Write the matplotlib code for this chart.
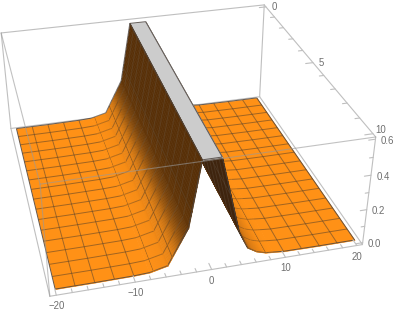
import numpy as np
import matplotlib
matplotlib.use("Agg")
import matplotlib.pyplot as plt
from mpl_toolkits.mplot3d import Axes3D
from mpl_toolkits.mplot3d.art3d import Poly3DCollection, Line3DCollection

plt.rcParams['font.family'] = ['Liberation Sans', 'DejaVu Sans']

# ---- data ----
x_knots = [-20, -15, -10, -8, -5.6, -2.9, -1.25, 1.25, 3.8, 5, 6.25, 7.5, 10, 15, 20]
z_profile = [0, 0, 0.002, 0.006, 0.03, 0.235, 0.6, 0.6, 0.16, 0.06, 0.028, 0.012, 0.002, 0, 0]
shade_x = [-20, -8, -6, -5, -4.5, -4, -3.5, -3, -2.4, -1.25, 1.25, 3.6, 4.5, 5.5, 7, 8, 20]
shade_t = [0, 0, 0.05, 0.17, 0.35, 0.6, 0.8, 0.92, 1, 1, 1, 1, 0.55, 0.2, 0.04, 0, 0]
x_mesh = [-17.5, -15, -12.5, -10, -7.5, -5, -2.5, 2.5, 5, 7.5, 10, 12.5, 15, 17.5]
y_knots = [0, 0.625, 1.25, 1.875, 2.5, 3.125, 3.75, 4.375, 5, 5.625, 6.25, 6.875, 7.5, 8.125, 8.75, 9.375, 10]
x_ticks_major = [-20, -10, 0, 10, 20]
x_tick_labels = ['\u221220', '\u221210', '0', '10', '20']
x_ticks_minor = [-18, -16, -14, -12, -8, -6, -4, -2, 2, 4, 6, 8, 12, 14, 16, 18]
y_ticks_major = [0, 5, 10]
y_tick_labels = ['0', '5', '10']
y_ticks_minor = [1, 2, 3, 4, 6, 7, 8, 9]
z_ticks_major = [0.0, 0.2, 0.4, 0.6]
z_tick_labels = ['0.0', '0.2', '0.4', '0.6']
z_ticks_minor = [0.1, 0.3, 0.5]
box_x = (-20.8, 20.8)
box_y = (-0.2, 10.2)
box_z = (-0.012, 0.612)

# ---- camera calibration: box corners -> pixels ----
corners = [(0, 0, 0, 11, 128), (1, 0, 0, 259, 97), (1, 1, 0, 363, 245), (0, 1, 0, 50, 296),
           (0, 0, 1, 1, 33), (1, 0, 1, 265, 5), (1, 1, 1, 375, 136), (0, 1, 1, 40, 185)]
A = []
for i, j, k, u, v in corners:
    X = [box_x[i], box_y[j], box_z[k], 1.0]
    A.append(X + [0, 0, 0, 0] + [-u * c for c in X])
    A.append([0, 0, 0, 0] + X + [-v * c for c in X])
P = np.linalg.svd(np.array(A, float))[2][-1].reshape(3, 4)
if (P[2] @ np.array([0, 5, 0.3, 1.0])) < 0:
    P = -P

W, H = 395, 313
fig = plt.figure(figsize=(W / 100, H / 100), dpi=100)
ax = fig.add_axes([0, 0, 1, 1], projection='3d', computed_zorder=False)
ax.apply_aspect = lambda *a, **k: None
ax.set_axis_off()
ax.patch.set_alpha(0)
ax.set_xlim(*box_x)
ax.set_ylim(*box_y)
ax.set_zlim(*box_z)


def get_proj():
    T = ax.transData.get_affine().get_matrix()
    Q = np.vstack([P[0], (H * P[2] - P[1]), [0, 0, 0, 0], P[2]])
    Q[2] = [0, 0, 0, -P[2] @ np.array([0, 5, 0.3, 1.0])]
    Ti = np.linalg.inv(T)
    out = np.eye(4)
    out[0] = Ti[0, 0] * Q[0] + Ti[0, 2] * Q[3]
    out[1] = Ti[1, 1] * Q[1] + Ti[1, 2] * Q[3]
    out[2] = Q[2]
    out[3] = Q[3]
    return out


ax.get_proj = get_proj


def to_px(x, y, z):
    h = P @ np.array([x, y, z, 1.0])
    return h[0] / h[2], h[1] / h[2]


def label(x, y, z, s, dx, dy):
    u, v = to_px(x, y, z)
    fig.text((u + dx) / W, 1 - (v + dy) / H, s, color=TXT, fontsize=6.9, ha='center', va='center')


ORANGE = np.array([255, 145, 22]) / 255
BROWN = np.array([88, 48, 8]) / 255
DARK = np.array([62, 36, 14]) / 255
EDGE = (0.3, 0.27, 0.25, 0.85)
BOX = (0.75, 0.75, 0.75, 1)
TXT = '#6e6e6e'
GRAY = (0.8, 0.8, 0.8, 1)

clip_a, clip_b = x_knots[6], x_knots[7]
yk = np.array(y_knots, float)
# surface faces: one long quad per narrow strip, so no seams run across the wall
xr = np.union1d(x_knots, x_mesh)
xr = np.union1d(xr, np.arange(-8, clip_a, 0.1))
xr = np.union1d(xr, np.arange(clip_b, 8.5, 0.1))
zr = np.interp(xr, x_knots, z_profile)


def colour(xm):
    t = np.interp(xm, shade_x, shade_t)
    base = BROWN if xm < 0 else DARK
    return ORANGE * (1 - t) + base * t, t


def mesh_colour(t):
    return (0.27, 0.22, 0.17, 0.5 - 0.2 * t) if t < 0.6 else (0.42, 0.36, 0.3, 0.3)


zo = 1


def line(a, b, color=BOX, lw=0.8, zorder=0.5):
    ax.plot([a[0], b[0]], [a[1], b[1]], [a[2], b[2]], color=color, lw=lw, zorder=zorder, solid_capstyle='round')


x0, x1 = box_x
y0, y1 = box_y
z0, z1 = box_z
# back box edges
line((x0, y0, z0), (x0, y0, z1))
line((x1, y0, z0), (x1, y0, z1))
line((x0, y0, z1), (x1, y0, z1))
line((x1, y0, z1), (x1, y1, z1))
line((x0, y0, z0), (x1, y0, z0))
line((x0, y0, z0), (x0, y1, z0))
line((x1, y0, z0), (x1, y1, z0))
line((x0, y1, z0), (x1, y1, z0))
line((x1, y1, z0), (x1, y1, z1))

# surface, strips from right to left (painter's order for this view)
for i in range(len(xr) - 2, -1, -1):
    zo += 10
    a, b = xr[i], xr[i + 1]
    za, zb = zr[i], zr[i + 1]
    polys = [[(a, yk[0], za), (b, yk[0], zb), (b, yk[-1], zb), (a, yk[-1], za)]]
    is_clip = a == clip_a
    c, t = colour(0.5 * (a + b))
    col = GRAY if is_clip else tuple(c) + (1,)
    pc = Poly3DCollection(polys, facecolors=col, edgecolors=col, linewidths=0.45, zorder=zo)
    ax.add_collection3d(pc, autolim=False)
    # lines stay above the next strips, except right of the grey top which must hide them
    lift = 5 if clip_b + 0.5 < a or a < clip_a else 1
    if not is_clip:
        segs = [[(a, y, za), (b, y, zb)] for y in yk[1:-1]]
        ax.add_collection3d(Line3DCollection(segs, colors=[mesh_colour(t)], linewidths=0.7, capstyle='butt',
                                             zorder=zo + 15 * lift / 5 + 1), autolim=False)
    ax.add_collection3d(Line3DCollection([[(a, yk[0], za), (b, yk[0], zb)], [(a, yk[-1], za), (b, yk[-1], zb)]],
                                         colors=[EDGE], linewidths=0.7, capstyle='butt',
                                         zorder=zo + 15 * lift / 5 + 2), autolim=False)
    ends = [(b, zb)] if i < len(xr) - 2 else [(b, zb)]
    if i == 0:
        ends.append((a, za))
    if is_clip:
        ends.append((a, za))
    for xm, zm in ends:
        if xm in (clip_a, clip_b, -20, 20):
            cl = EDGE
        elif xm in x_mesh:
            cl = mesh_colour(colour(xm)[1])
        else:
            continue
        ax.add_collection3d(Line3DCollection([[(xm, yk[0], zm), (xm, yk[-1], zm)]], colors=[cl], linewidths=0.7,
                                             capstyle='butt', zorder=zo + 15 * lift / 5 + 3), autolim=False)

# front box edges, faintly over the surface
FRONT = (0.6, 0.6, 0.6, 0.6)
top = zo + 50
line((x0, y1, z0), (x0, y1, z1), color=FRONT, zorder=top)
line((x0, y0, z1), (x0, y1, z1), color=FRONT, zorder=top)
line((x0, y1, z1), (x1, y1, z1), color=FRONT, zorder=top)

# ticks
for v, lab in zip(x_ticks_major, x_tick_labels):
    line((v, y1, z0), (v, y1 - 0.32, z0), zorder=top)
    label(v, y1, z0, lab, 0, 11)
for v in x_ticks_minor:
    line((v, y1, z0), (v, y1 - 0.18, z0), zorder=top)
for v, lab in zip(y_ticks_major, y_tick_labels):
    line((x1, v, z1), (x1 - 1.1, v, z1), zorder=top)
    label(x1, v, z1, lab, 8, 0.5 if v < 10 else -3.5)
for v in y_ticks_minor:
    line((x1, v, z1), (x1 - 0.65, v, z1), zorder=top)
for v, lab in zip(z_ticks_major, z_tick_labels):
    line((x1, y1, v), (x1 - 0.9, y1, v), zorder=top)
    label(x1, y1, v, lab, 12, 1.5)
for v in z_ticks_minor:
    line((x1, y1, v), (x1 - 0.5, y1, v), zorder=top)

fig.savefig('out.png', dpi=100, facecolor='white')
